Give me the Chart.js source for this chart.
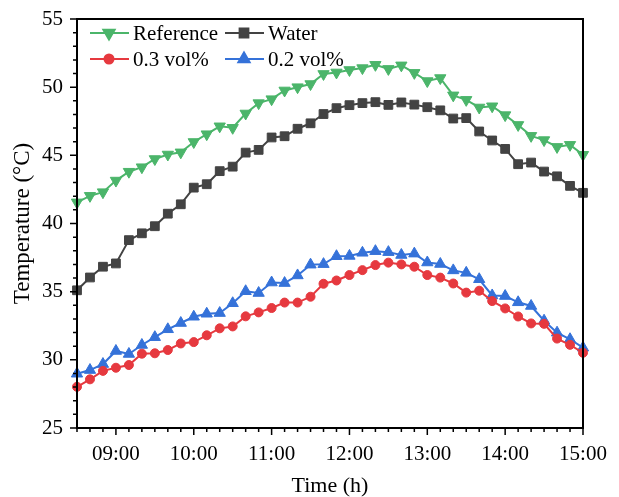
<!DOCTYPE html>
<html>
<head>
<meta charset="utf-8">
<script src="https://cdn.jsdelivr.net/npm/chart.js@4.4.0/dist/chart.umd.min.js"></script>
<style>
  html, body { margin: 0; padding: 0; background: #fff; }
</style>
</head>
<body>
<canvas id="tempChart" width="619" height="497"></canvas>
<script>
// readings every 10 minutes
var times = ['08:30', '08:40', '08:50', '09:00', '09:10', '09:20', '09:30', '09:40', '09:50', '10:00',
             '10:10', '10:20', '10:30', '10:40', '10:50', '11:00', '11:10', '11:20', '11:30', '11:40',
             '11:50', '12:00', '12:10', '12:20', '12:30', '12:40', '12:50', '13:00', '13:10', '13:20',
             '13:30', '13:40', '13:50', '14:00', '14:10', '14:20', '14:30', '14:40', '14:50', '15:00'];

var reference = [41.55, 42.03, 42.30, 43.15, 43.80, 44.13, 44.73, 45.06, 45.22, 45.98,
                 46.55, 47.13, 47.02, 48.07, 48.83, 49.12, 49.76, 50.00, 50.23, 50.97,
                 51.08, 51.26, 51.40, 51.64, 51.34, 51.60, 51.05, 50.45, 50.67, 49.40,
                 49.07, 48.51, 48.60, 47.95, 47.23, 46.43, 46.12, 45.62, 45.77, 45.04];

var water = [35.10, 36.04, 36.83, 37.07, 38.78, 39.28, 39.80, 40.72, 41.41, 42.63,
             42.88, 43.84, 44.17, 45.20, 45.40, 46.31, 46.40, 46.95, 47.35, 48.03,
             48.46, 48.68, 48.83, 48.90, 48.70, 48.88, 48.72, 48.53, 48.30, 47.70,
             47.73, 46.75, 46.09, 45.47, 44.35, 44.47, 43.81, 43.46, 42.76, 42.25];

var vol03 = [28.02, 28.57, 29.19, 29.42, 29.62, 30.45, 30.48, 30.72, 31.20, 31.30,
             31.80, 32.31, 32.45, 33.19, 33.48, 33.80, 34.20, 34.20, 34.63, 35.58,
             35.82, 36.22, 36.58, 36.95, 37.13, 37.00, 36.83, 36.22, 36.03, 35.60,
             34.93, 35.07, 34.31, 33.77, 33.18, 32.67, 32.64, 31.56, 31.10, 30.52];

var vol02 = [28.98, 29.25, 29.69, 30.65, 30.43, 31.09, 31.66, 32.24, 32.70, 33.16,
             33.38, 33.43, 34.15, 35.03, 34.90, 35.67, 35.63, 36.19, 36.98, 37.02,
             37.60, 37.62, 37.85, 37.97, 37.90, 37.69, 37.79, 37.14, 37.03, 36.56,
             36.38, 35.91, 34.72, 34.68, 34.22, 33.95, 32.87, 31.99, 31.51, 30.89];

var yMin = 25, yMax = 55, yStep = 5;

var serif = '"Liberation Serif", "Times New Roman", serif';

function series(label, values, color, style, radius, rotation) {
    return {
        label: label,
        data: values,
        borderColor: color,
        backgroundColor: color,
        borderWidth: 2,
        pointStyle: style,
        pointRadius: radius,
        pointRotation: rotation || 0,
        pointBorderWidth: 1,
        tension: 0
    };
}

function isHour(t) {
    return t.slice(3) === '00';
}

// box around the plot plus major/minor tick marks
var frameTicks = {
    id: 'frameTicks',
    afterDraw: function(chart) {
        var ctx = chart.ctx, area = chart.chartArea;
        var xs = chart.scales.x, ys = chart.scales.y;
        ctx.save();
        ctx.strokeStyle = '#000';
        ctx.lineWidth = 2;
        ctx.strokeRect(area.left, area.top, area.right - area.left, area.bottom - area.top);
        ctx.lineWidth = 1.5;
        ctx.beginPath();
        times.forEach(function(t, i) {
            var px = xs.getPixelForTick(i);
            var len = isHour(t) ? 7 : 4;
            ctx.moveTo(px, area.bottom);
            ctx.lineTo(px, area.bottom + len);
        });
        for (var v = yMin; v <= yMax; v++) {
            var py = ys.getPixelForValue(v);
            var len = v % yStep === 0 ? 7 : 4;
            ctx.moveTo(area.left - len, py);
            ctx.lineTo(area.left, py);
        }
        ctx.stroke();
        ctx.restore();
    }
};

// two-column legend with a line + marker sample
var sampleLegend = {
    id: 'sampleLegend',
    afterDraw: function(chart) {
        var ctx = chart.ctx, area = chart.chartArea;
        ctx.save();
        ctx.font = '21px ' + serif;
        ctx.textBaseline = 'middle';
        chart.data.datasets.forEach(function(ds, i) {
            var x0 = area.left + (i % 2 === 0 ? 13 : 148);
            var y0 = area.top + (i < 2 ? 14 : 40);
            ctx.strokeStyle = ds.borderColor;
            ctx.fillStyle = ds.backgroundColor;
            ctx.lineWidth = 2;
            ctx.beginPath();
            ctx.moveTo(x0, y0);
            ctx.lineTo(x0 + 39, y0);
            ctx.stroke();
            Chart.helpers.drawPoint(ctx, {
                pointStyle: ds.pointStyle,
                radius: ds.pointRadius,
                rotation: ds.pointRotation,
                borderWidth: 1
            }, x0 + 19, y0);
            ctx.fillStyle = '#000';
            ctx.fillText(ds.label, x0 + 43, y0 + 1);
        });
        ctx.restore();
    }
};

new Chart(document.getElementById('tempChart'), {
    type: 'line',
    data: {
        labels: times,
        datasets: [
            series('Reference', reference, '#4bb56a', 'triangle', 6.5, 180),
            series('Water', water, '#434343', 'rect', 6.2),
            series('0.3 vol%', vol03, '#e6393f', 'circle', 4.5),
            series('0.2 vol%', vol02, '#3572d9', 'triangle', 6.5)
        ]
    },
    options: {
        responsive: false,
        animation: false,
        devicePixelRatio: 1,
        layout: { padding: { top: 19, right: 36, left: 0, bottom: 0 } },
        plugins: {
            legend: { display: false },
            tooltip: { enabled: false }
        },
        scales: {
            x: {
                type: 'category',
                offset: false,
                grid: { display: false },
                border: { display: true, color: '#000', width: 2 },
                ticks: {
                    autoSkip: false,
                    maxRotation: 0,
                    minRotation: 0,
                    color: '#000',
                    padding: 6,
                    font: { family: serif, size: 21 },
                    callback: function(v, i) {
                        return isHour(times[i]) ? times[i] : '';
                    }
                },
                title: {
                    display: true,
                    text: 'Time (h)',
                    color: '#000',
                    font: { family: serif, size: 22, lineHeight: 1 },
                    padding: { top: 0, bottom: 0 }
                },
                afterFit: function(s) { s.height = 69; }
            },
            y: {
                min: yMin,
                max: yMax,
                grid: { display: false },
                border: { display: true, color: '#000', width: 2 },
                ticks: {
                    stepSize: yStep,
                    color: '#000',
                    padding: 6,
                    font: { family: serif, size: 21 }
                },
                title: {
                    display: true,
                    text: 'Temperature (°C)',
                    color: '#000',
                    font: { family: serif, size: 23 },
                    padding: { top: 9, bottom: 0 }
                },
                afterFit: function(s) {
                    s.width = 77;
                    s.paddingTop = 0;
                    s.paddingBottom = 0;
                }
            }
        }
    },
    plugins: [frameTicks, sampleLegend]
});
</script>
</body>
</html>
